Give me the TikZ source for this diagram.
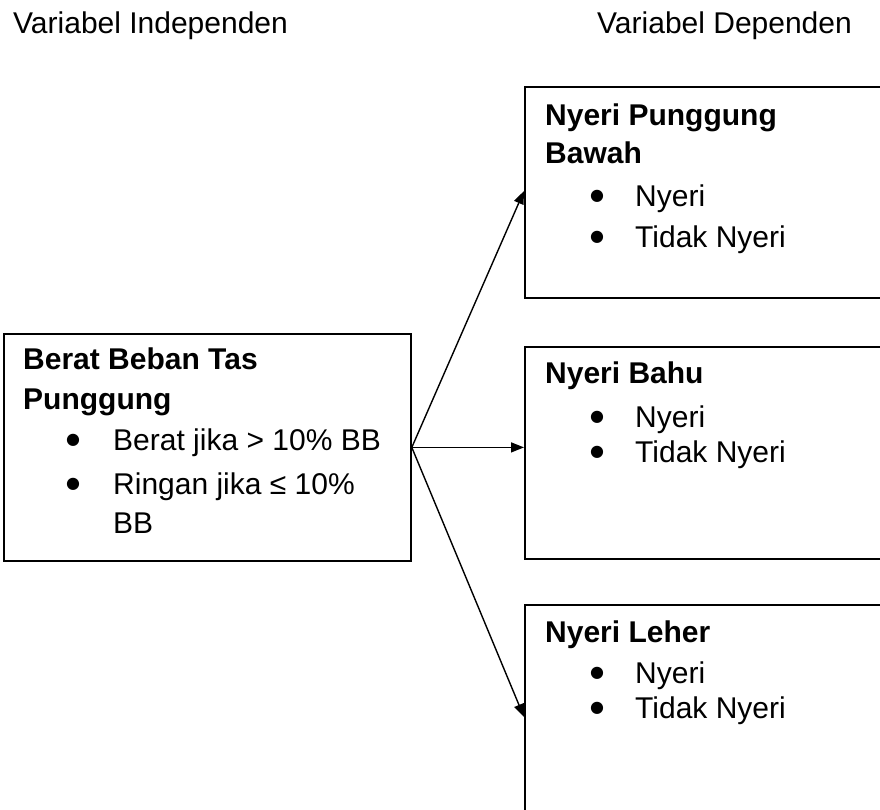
\documentclass[tikz,border=0pt]{standalone}
\usepackage{fontspec}
\setmainfont{Liberation Sans}
\newfontfamily\dejavu{DejaVu Sans}
\usetikzlibrary{arrows.meta,calc}
\begin{document}
\begin{tikzpicture}[x=1pt,y=-1pt,
  box/.style={draw,line width=1.8pt,rectangle,inner sep=0pt,anchor=north west},
  txt/.style={anchor=base west,inner sep=0pt,font=\fontsize{30}{36}\selectfont},
  ttl/.style={anchor=base west,inner sep=0pt,font=\fontsize{30}{36}\selectfont\bfseries},
  hdr/.style={anchor=base west,inner sep=0pt,font=\fontsize{30}{36}\selectfont},
  bul/.style={anchor=base,inner sep=0pt,yshift=6pt,font=\dejavu\fontsize{16}{19}\selectfont},
  conn/.style={line width=1.4pt,-{Triangle[length=13pt,width=10pt]}}]
\useasboundingbox (0,0) rectangle (880,809);
\clip (0,0) rectangle (880,809);
% headers
\node[hdr] (hi) at (13,33) {Variabel Independen};
\node[hdr] (hd) at (597,33) {Variabel Dependen};
% boxes
\node[box,minimum width=407pt,minimum height=227pt] (src) at (3,333) {};
\node[box,minimum width=420pt,minimum height=211pt] (t1) at (524,86) {};
\node[box,minimum width=420pt,minimum height=212pt] (t2) at (524,346) {};
\node[box,minimum width=420pt,minimum height=260pt] (t3) at (524,604) {};
% source text
\node[ttl] (s1) at (23,369) {Berat Beban Tas};
\node[ttl] (s2) at (23,409) {Punggung};
\node[bul] (sb1) at (73,450) {●};
\node[txt] (s3) at (113,450) {Berat jika > 10\% BB};
\node[bul] (sb2) at (73,494) {●};
\node[txt] (s4) at (113,494) {Ringan jika ≤ 10\%};
\node[txt] (s5) at (113,533) {BB};
% target 1
\node[ttl] (a1) at (545,125) {Nyeri Punggung};
\node[ttl] (a2) at (545,163) {Bawah};
\node[bul] (ab1) at (597,206) {●};
\node[txt] (a3) at (635,206) {Nyeri};
\node[bul] (ab2) at (597,247) {●};
\node[txt] (a4) at (635,247) {Tidak Nyeri};
% target 2
\node[ttl] (b1) at (545,383) {Nyeri Bahu};
\node[bul] (bb1) at (597,427) {●};
\node[txt] (b2) at (635,427) {Nyeri};
\node[bul] (bb2) at (597,462) {●};
\node[txt] (b3) at (635,462) {Tidak Nyeri};
% target 3
\node[ttl] (c1) at (545,642) {Nyeri Leher};
\node[bul] (cb1) at (597,683) {●};
\node[txt] (c2) at (635,683) {Nyeri};
\node[bul] (cb2) at (597,718) {●};
\node[txt] (c3) at (635,718) {Tidak Nyeri};
% connectors
\draw[conn] (src.east) -- ($(t1.north west)+(0,105)$);
\draw[conn] (src.east) -- (src.east -| t2.west);
\draw[conn] (src.east) -- ($(t3.north west)+(0,113)$);
\end{tikzpicture}
\end{document}
